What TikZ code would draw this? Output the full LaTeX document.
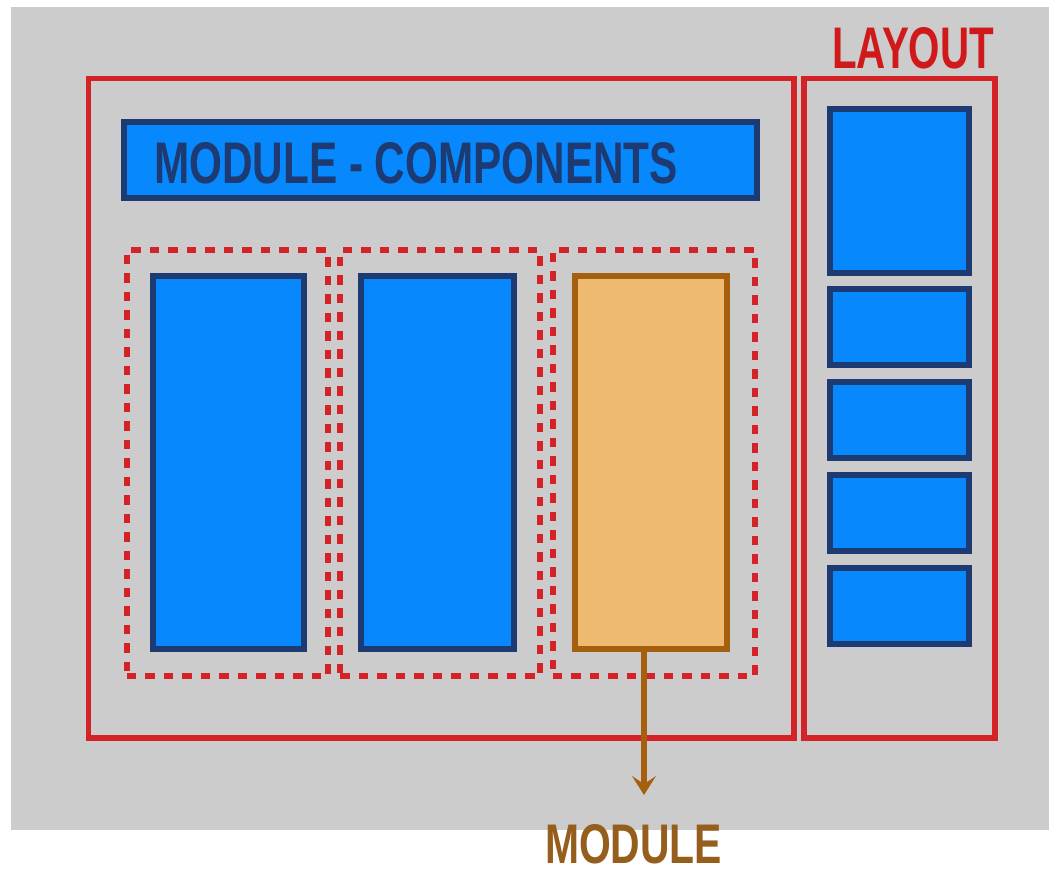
\documentclass[tikz,border=0pt]{standalone}
\usepackage{fontspec}
\setmainfont{Liberation Sans}
\usetikzlibrary{arrows.meta}
\definecolor{bggray}{HTML}{CCCCCC}
\definecolor{lred}{HTML}{D42326}
\definecolor{tred}{HTML}{D0191B}
\definecolor{bfill}{HTML}{0788FC}
\definecolor{bdark}{HTML}{1E3A72}
\definecolor{ofill}{HTML}{EEBA6F}
\definecolor{odark}{HTML}{A5600F}
\definecolor{btext}{HTML}{955E1C}
\tikzset{
  every node/.style={outer sep=0pt, inner sep=0pt},
  redframe/.style={draw=lred, line width=5.5pt, anchor=north west},
  dashframe/.style={draw=lred, line width=6pt, dash pattern=on 9.5pt off 9pt, anchor=north west},
  bluebox/.style={draw=bdark, fill=bfill, line width=6pt, anchor=north west},
  orangebox/.style={draw=odark, fill=ofill, line width=6pt, anchor=north west},
  lbl/.style={anchor=north west, font=\bfseries},
}
\begin{document}
\begin{tikzpicture}[x=1pt, y=-1pt]
\useasboundingbox (0,0) rectangle (1049,869);
\fill[bggray] (11,7) rectangle (1049,830);
% frames
\node[redframe, minimum width=705.5pt, minimum height=659.5pt] (main) at (88.5,78.5) {};
\node[redframe, minimum width=191pt, minimum height=659.5pt] (layout) at (804,78.5) {};
% title bar
\node[bluebox, minimum width=633pt, minimum height=76.5pt] (bar) at (124,122) {};
\node[lbl, text=bdark] (bartext) at (154,142) {\resizebox{524pt}{41pt}{MODULE - COMPONENTS}};
% dashed slots
\node[dashframe, minimum width=201pt, minimum height=426pt] (d1) at (126.7,250) {};
\node[dashframe, minimum width=200pt, minimum height=426pt] (d2) at (340,250) {};
\node[dashframe, minimum width=202pt, minimum height=426pt] (d3) at (552.7,250) {};
% tall components
\node[bluebox, minimum width=151pt, minimum height=373pt] (c1) at (153,276) {};
\node[bluebox, minimum width=153pt, minimum height=373pt] (c2) at (361,276) {};
\node[orangebox, minimum width=152.5pt, minimum height=373pt] (c3) at (574.5,276) {};
% layout components
\node[bluebox, minimum width=139.5pt, minimum height=164pt] (l1) at (829.5,109) {};
\node[bluebox, minimum width=139.5pt, minimum height=76pt] (l2) at (829.5,289) {};
\node[bluebox, minimum width=139.5pt, minimum height=76pt] (l3) at (829.5,382) {};
\node[bluebox, minimum width=139.5pt, minimum height=76pt] (l4) at (829.5,475) {};
\node[bluebox, minimum width=139.5pt, minimum height=76pt] (l5) at (829.5,568) {};
% labels
\node[lbl, text=tred] (layoutlbl) at (832,27) {\resizebox{162pt}{41pt}{LAYOUT}};
\node[lbl, text=btext] (modlbl) at (545,824) {\resizebox{177pt}{39pt}{MODULE}};
% arrow
\coordinate (tip) at (644,795);
\draw[draw=odark, line width=6pt, -{Stealth[length=19pt, width=24pt, inset=8pt, line width=1pt]}] (c3.south -| tip) -- (tip);
\end{tikzpicture}
\end{document}
